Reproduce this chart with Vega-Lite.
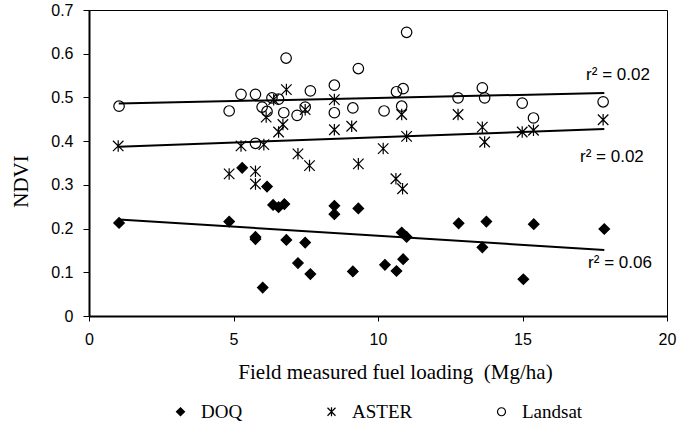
{
  "$schema": "https://vega.github.io/schema/vega-lite/v6.json",
  "width": 578,
  "height": 306,
  "autosize": {"type": "none"},
  "padding": {"left": 89, "top": 10, "right": 12, "bottom": 109},
  "background": "white",
  "config": {
    "view": {"stroke": "#000000", "strokeWidth": 1},
    "axis": {
      "grid": false,
      "domainColor": "#000000",
      "domainWidth": 2,
      "tickColor": "#000000",
      "tickWidth": 1,
      "labelFont": "Liberation Sans",
      "labelFontSize": 16,
      "labelColor": "#000000",
      "titleFont": "Liberation Serif",
      "titleFontSize": 21,
      "titleFontWeight": "normal",
      "titleColor": "#000000"
    },
    "legend": {
      "title": null,
      "orient": "none",
      "direction": "horizontal",
      "legendX": 82,
      "legendY": 392,
      "padding": 0,
      "labelFont": "Liberation Serif",
      "labelFontSize": 19,
      "labelColor": "#000000",
      "symbolSize": 64,
      "symbolStrokeWidth": 1.2,
      "labelOffset": 11,
      "columnPadding": 79
    }
  },
  "datasets": {
    "points": [
      {"fuel": 1.04, "ndvi": 0.213, "sensor": "DOQ"},
      {"fuel": 4.85, "ndvi": 0.216, "sensor": "DOQ"},
      {"fuel": 5.3, "ndvi": 0.339, "sensor": "DOQ"},
      {"fuel": 5.76, "ndvi": 0.181, "sensor": "DOQ"},
      {"fuel": 5.76, "ndvi": 0.176, "sensor": "DOQ"},
      {"fuel": 6.16, "ndvi": 0.296, "sensor": "DOQ"},
      {"fuel": 6.01, "ndvi": 0.065, "sensor": "DOQ"},
      {"fuel": 6.37, "ndvi": 0.254, "sensor": "DOQ"},
      {"fuel": 6.56, "ndvi": 0.249, "sensor": "DOQ"},
      {"fuel": 6.76, "ndvi": 0.256, "sensor": "DOQ"},
      {"fuel": 6.83, "ndvi": 0.174, "sensor": "DOQ"},
      {"fuel": 7.23, "ndvi": 0.121, "sensor": "DOQ"},
      {"fuel": 7.48, "ndvi": 0.168, "sensor": "DOQ"},
      {"fuel": 7.66, "ndvi": 0.096, "sensor": "DOQ"},
      {"fuel": 8.49, "ndvi": 0.252, "sensor": "DOQ"},
      {"fuel": 8.49, "ndvi": 0.233, "sensor": "DOQ"},
      {"fuel": 9.32, "ndvi": 0.246, "sensor": "DOQ"},
      {"fuel": 9.13, "ndvi": 0.102, "sensor": "DOQ"},
      {"fuel": 10.24, "ndvi": 0.117, "sensor": "DOQ"},
      {"fuel": 10.64, "ndvi": 0.103, "sensor": "DOQ"},
      {"fuel": 10.82, "ndvi": 0.191, "sensor": "DOQ"},
      {"fuel": 10.99, "ndvi": 0.181, "sensor": "DOQ"},
      {"fuel": 10.87, "ndvi": 0.13, "sensor": "DOQ"},
      {"fuel": 12.79, "ndvi": 0.212, "sensor": "DOQ"},
      {"fuel": 13.75, "ndvi": 0.216, "sensor": "DOQ"},
      {"fuel": 13.61, "ndvi": 0.157, "sensor": "DOQ"},
      {"fuel": 15.03, "ndvi": 0.084, "sensor": "DOQ"},
      {"fuel": 15.39, "ndvi": 0.21, "sensor": "DOQ"},
      {"fuel": 17.83, "ndvi": 0.199, "sensor": "DOQ"},
      {"fuel": 1.01, "ndvi": 0.389, "sensor": "ASTER"},
      {"fuel": 4.85, "ndvi": 0.325, "sensor": "ASTER"},
      {"fuel": 5.26, "ndvi": 0.389, "sensor": "ASTER"},
      {"fuel": 5.76, "ndvi": 0.331, "sensor": "ASTER"},
      {"fuel": 5.76, "ndvi": 0.302, "sensor": "ASTER"},
      {"fuel": 6.05, "ndvi": 0.392, "sensor": "ASTER"},
      {"fuel": 6.13, "ndvi": 0.455, "sensor": "ASTER"},
      {"fuel": 6.39, "ndvi": 0.495, "sensor": "ASTER"},
      {"fuel": 6.56, "ndvi": 0.421, "sensor": "ASTER"},
      {"fuel": 6.71, "ndvi": 0.438, "sensor": "ASTER"},
      {"fuel": 6.83, "ndvi": 0.518, "sensor": "ASTER"},
      {"fuel": 7.23, "ndvi": 0.371, "sensor": "ASTER"},
      {"fuel": 7.48, "ndvi": 0.472, "sensor": "ASTER"},
      {"fuel": 7.63, "ndvi": 0.344, "sensor": "ASTER"},
      {"fuel": 8.49, "ndvi": 0.495, "sensor": "ASTER"},
      {"fuel": 8.49, "ndvi": 0.426, "sensor": "ASTER"},
      {"fuel": 9.09, "ndvi": 0.434, "sensor": "ASTER"},
      {"fuel": 9.32, "ndvi": 0.348, "sensor": "ASTER"},
      {"fuel": 10.18, "ndvi": 0.383, "sensor": "ASTER"},
      {"fuel": 10.62, "ndvi": 0.314, "sensor": "ASTER"},
      {"fuel": 10.82, "ndvi": 0.461, "sensor": "ASTER"},
      {"fuel": 10.85, "ndvi": 0.291, "sensor": "ASTER"},
      {"fuel": 10.99, "ndvi": 0.411, "sensor": "ASTER"},
      {"fuel": 12.77, "ndvi": 0.461, "sensor": "ASTER"},
      {"fuel": 13.61, "ndvi": 0.432, "sensor": "ASTER"},
      {"fuel": 13.69, "ndvi": 0.398, "sensor": "ASTER"},
      {"fuel": 14.99, "ndvi": 0.421, "sensor": "ASTER"},
      {"fuel": 15.38, "ndvi": 0.425, "sensor": "ASTER"},
      {"fuel": 17.79, "ndvi": 0.449, "sensor": "ASTER"},
      {"fuel": 1.04, "ndvi": 0.48, "sensor": "Landsat"},
      {"fuel": 4.85, "ndvi": 0.469, "sensor": "Landsat"},
      {"fuel": 5.26, "ndvi": 0.507, "sensor": "Landsat"},
      {"fuel": 5.76, "ndvi": 0.507, "sensor": "Landsat"},
      {"fuel": 5.76, "ndvi": 0.395, "sensor": "Landsat"},
      {"fuel": 5.99, "ndvi": 0.478, "sensor": "Landsat"},
      {"fuel": 6.16, "ndvi": 0.468, "sensor": "Landsat"},
      {"fuel": 6.33, "ndvi": 0.499, "sensor": "Landsat"},
      {"fuel": 6.56, "ndvi": 0.496, "sensor": "Landsat"},
      {"fuel": 6.74, "ndvi": 0.465, "sensor": "Landsat"},
      {"fuel": 6.82, "ndvi": 0.59, "sensor": "Landsat"},
      {"fuel": 7.2, "ndvi": 0.459, "sensor": "Landsat"},
      {"fuel": 7.48, "ndvi": 0.478, "sensor": "Landsat"},
      {"fuel": 7.66, "ndvi": 0.515, "sensor": "Landsat"},
      {"fuel": 8.49, "ndvi": 0.528, "sensor": "Landsat"},
      {"fuel": 8.49, "ndvi": 0.465, "sensor": "Landsat"},
      {"fuel": 9.13, "ndvi": 0.476, "sensor": "Landsat"},
      {"fuel": 9.32, "ndvi": 0.566, "sensor": "Landsat"},
      {"fuel": 10.21, "ndvi": 0.469, "sensor": "Landsat"},
      {"fuel": 10.64, "ndvi": 0.513, "sensor": "Landsat"},
      {"fuel": 10.82, "ndvi": 0.48, "sensor": "Landsat"},
      {"fuel": 10.87, "ndvi": 0.52, "sensor": "Landsat"},
      {"fuel": 10.99, "ndvi": 0.649, "sensor": "Landsat"},
      {"fuel": 12.77, "ndvi": 0.499, "sensor": "Landsat"},
      {"fuel": 13.61, "ndvi": 0.522, "sensor": "Landsat"},
      {"fuel": 13.69, "ndvi": 0.499, "sensor": "Landsat"},
      {"fuel": 14.99, "ndvi": 0.487, "sensor": "Landsat"},
      {"fuel": 15.38, "ndvi": 0.453, "sensor": "Landsat"},
      {"fuel": 17.79, "ndvi": 0.49, "sensor": "Landsat"}
    ],
    "trend": [
      {"fuel": 1.03, "ndvi": 0.221, "sensor": "DOQ"},
      {"fuel": 17.83, "ndvi": 0.151, "sensor": "DOQ"},
      {"fuel": 1.03, "ndvi": 0.387, "sensor": "ASTER"},
      {"fuel": 17.83, "ndvi": 0.428, "sensor": "ASTER"},
      {"fuel": 1.03, "ndvi": 0.486, "sensor": "Landsat"},
      {"fuel": 17.83, "ndvi": 0.51, "sensor": "Landsat"}
    ],
    "fits": [
      {"fuel": 17.2, "ndvi": 0.551, "label": "r² = 0.02"},
      {"fuel": 16.99, "ndvi": 0.364, "label": "r² = 0.02"},
      {"fuel": 17.27, "ndvi": 0.121, "label": "r² = 0.06"}
    ]
  },
  "encoding": {
    "x": {
      "field": "fuel",
      "type": "quantitative",
      "scale": {"domain": [0, 20], "nice": false, "zero": false},
      "axis": {
        "values": [0, 5, 10, 15, 20],
        "title": "Field measured fuel loading\u00a0 (Mg/ha)",
        "tickSize": 5,
        "labelPadding": 10,
        "labelFlush": false,
        "titleX": 306,
        "titleY": 56,
        "titleBaseline": "middle"
      }
    },
    "y": {
      "field": "ndvi",
      "type": "quantitative",
      "scale": {"domain": [0, 0.7], "nice": false},
      "axis": {
        "values": [0, 0.1, 0.2, 0.3, 0.4, 0.5, 0.6, 0.7],
        "format": ".1~f",
        "title": "NDVI",
        "tickSize": 6,
        "labelPadding": 10,
        "labelFlush": false,
        "titleX": -68,
        "titleY": 171,
        "titleBaseline": "middle"
      }
    }
  },
  "layer": [
    {
      "data": {"name": "trend"},
      "mark": {"type": "line", "color": "#000000", "strokeWidth": 2},
      "encoding": {"detail": {"field": "sensor", "type": "nominal"}}
    },
    {
      "data": {"name": "points"},
      "mark": {"type": "point", "opacity": 1, "strokeWidth": 1.2, "size": 110},
      "encoding": {
        "shape": {
          "field": "sensor",
          "type": "nominal",
          "scale": {
            "domain": ["DOQ", "ASTER", "Landsat"],
            "range": ["diamond", "M-1,-1L1,1M1,-1L-1,1M0,-1.1L0,1.1", "circle"]
          }
        },
        "fill": {
          "field": "sensor",
          "type": "nominal",
          "scale": {
            "domain": ["DOQ", "ASTER", "Landsat"],
            "range": ["#000000", "transparent", "transparent"]
          }
        },
        "stroke": {
          "field": "sensor",
          "type": "nominal",
          "scale": {
            "domain": ["DOQ", "ASTER", "Landsat"],
            "range": ["#000000", "#000000", "#000000"]
          }
        }
      }
    },
    {
      "data": {"name": "fits"},
      "mark": {"type": "text", "align": "left", "baseline": "middle", "font": "Liberation Sans", "fontSize": 17, "color": "#000000"},
      "encoding": {"text": {"field": "label", "type": "nominal"}}
    }
  ]
}
